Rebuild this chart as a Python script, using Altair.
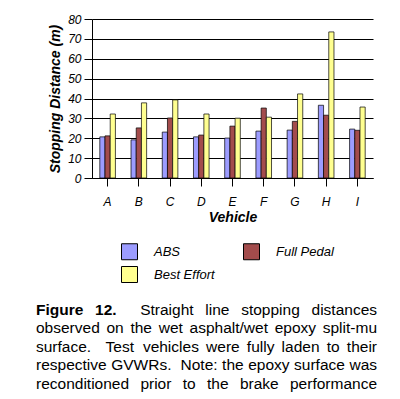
import altair as alt
import pandas as pd

vehicles = ["A", "B", "C", "D", "E", "F", "G", "H", "I"]
series = ["ABS", "Full Pedal", "Best Effort"]
legend_order = ["ABS", "Best Effort", "Full Pedal"]
abs_vals = [20.7, 19.2, 23.1, 20.7, 20.1, 23.6, 24.1, 36.6, 24.6]
full_vals = [21.2, 25.2, 30.2, 21.6, 26.1, 35.2, 28.5, 31.6, 24.0]
best_vals = [32.2, 37.8, 39.3, 32.2, 30.1, 30.6, 42.3, 73.5, 35.7]
colors = ["#9c9cff", "#a34c4c", "#ffff90"]
y_ticks = [0, 10, 20, 30, 40, 50, 60, 70, 80]

caption_lines = [
    "Figure 12.  Straight line stopping distances",
    "observed on the wet asphalt/wet epoxy split-mu",
    "surface.  Test vehicles were fully laden to their",
    "respective GVWRs.  Note: the epoxy surface was",
    "reconditioned prior to the brake performance",
]
bold_words = ["Figure", "12."]

FONT = "Liberation Sans"
W, H = 281, 159

rows = []
for v, a, f, b in zip(vehicles, abs_vals, full_vals, best_vals):
    rows.append({"Vehicle": v, "Series": "ABS", "Value": a})
    rows.append({"Vehicle": v, "Series": "Full Pedal", "Value": f})
    rows.append({"Vehicle": v, "Series": "Best Effort", "Value": b})
df = pd.DataFrame(rows)

# Arial / Liberation Sans advance widths (per 1000 em)
REG = {" ": 278, ".": 278, ":": 278, "/": 278, "-": 333, ",": 278,
       "0": 556, "1": 556, "2": 556, "3": 556, "4": 556, "5": 556, "6": 556, "7": 556, "8": 556, "9": 556,
       "A": 667, "B": 667, "C": 722, "D": 722, "E": 667, "F": 611, "G": 778, "H": 722, "I": 278,
       "N": 722, "R": 722, "S": 667, "T": 611, "V": 667, "W": 944,
       "a": 556, "b": 556, "c": 500, "d": 556, "e": 556, "f": 278, "g": 556, "h": 556, "i": 222,
       "j": 222, "k": 500, "l": 222, "m": 833, "n": 556, "o": 556, "p": 556, "q": 556, "r": 333,
       "s": 500, "t": 278, "u": 556, "v": 500, "w": 722, "x": 500, "y": 500, "z": 500}
BOLD = dict(REG)
BOLD.update({"F": 611, "i": 278, "g": 611, "u": 611, "r": 389, "e": 556, "1": 556, "2": 556, ".": 278})

CAP_SIZE = 15.5
LEFT = 36 - 92
SPAN = 341
BASE0 = 315 - 19
LEAD = 18.4

cap_rows = []
for li, line in enumerate(caption_lines):
    toks = line.split(" ")
    words, gaps = [], []
    pending = 0
    for t in toks:
        if t == "":
            pending += 1
            continue
        if words:
            gaps.append(pending)
        words.append(t)
        pending = 1
    widths = []
    for w in words:
        table = BOLD if w in bold_words and li == 0 else REG
        widths.append(sum(table.get(c, 556) for c in w) / 1000 * CAP_SIZE)
    sp = REG[" "] / 1000 * CAP_SIZE
    natural = sum(widths) + sum(gaps) * sp
    per = (SPAN - natural) / max(sum(gaps), 1)
    x = LEFT
    for i, w in enumerate(words):
        cap_rows.append({"word": w, "px": x, "py": BASE0 + li * LEAD,
                         "bold": (w in bold_words and li == 0)})
        x += widths[i]
        if i < len(gaps):
            x += gaps[i] * (sp + per)
cap = pd.DataFrame(cap_rows)

bars = alt.Chart(df).mark_bar(stroke="black", strokeWidth=0.7).encode(
    x=alt.X("Vehicle:N", sort=vehicles,
            scale=alt.Scale(paddingInner=0.5, paddingOuter=0.25),
            axis=alt.Axis(title="Vehicle", labelAngle=0, tickSize=8, tickColor="black",
                          domainColor="black", labelFont=FONT, labelFontSize=12,
                          labelFontStyle="italic", labelColor="black", labelPadding=10,
                          titleFont=FONT, titleFontSize=14, titleFontStyle="italic",
                          titleFontWeight="bold", titleColor="black", titlePadding=3)),
    xOffset=alt.XOffset("Series:N", sort=series,
                        scale=alt.Scale(paddingInner=0, paddingOuter=0)),
    y=alt.Y("Value:Q", scale=alt.Scale(domain=[0, 80], nice=False),
            axis=alt.Axis(title="Stopping Distance (m)", values=y_ticks, tickSize=8,
                          tickColor="black", domainColor="black", gridColor="black",
                          gridOpacity=1, labelFont=FONT, labelFontSize=12,
                          labelFontStyle="italic", labelColor="black", labelPadding=3,
                          titleFont=FONT, titleFontSize=14, titleFontStyle="italic",
                          titleFontWeight="bold", titleColor="black", titlePadding=5)),
    color=alt.Color("Series:N",
                    scale=alt.Scale(domain=series, range=colors),
                    legend=alt.Legend(title=None, orient="none", legendX=29, legendY=224,
                                      columns=2, values=legend_order,
                                      symbolType="square", symbolSize=256,
                                      symbolStrokeColor="black", symbolStrokeWidth=1,
                                      labelFont=FONT, labelFontSize=13,
                                      labelFontStyle="italic", labelColor="black",
                                      labelOffset=16, columnPadding=26, rowPadding=2)),
)

cap_norm = alt.Chart(cap).transform_filter("!datum.bold").mark_text(
    align="left", baseline="alphabetic", font=FONT, fontSize=CAP_SIZE, color="black"
).encode(x=alt.X("px:Q", scale=None, axis=None),
         y=alt.Y("py:Q", scale=None, axis=None), text="word:N")

cap_bold = alt.Chart(cap).transform_filter("datum.bold").mark_text(
    align="left", baseline="alphabetic", font=FONT, fontSize=CAP_SIZE, color="black",
    fontWeight="bold"
).encode(x=alt.X("px:Q", scale=None, axis=None),
         y=alt.Y("py:Q", scale=None, axis=None), text="word:N")

chart = alt.layer(bars, cap_norm, cap_bold).resolve_scale(
    x="independent", y="independent"
).properties(
    width=W, height=H,
    autosize=alt.AutoSizeParams(type="none"),
    padding={"left": 84, "top": 11, "right": 19, "bottom": 221},
    background="white",
).configure_view(stroke=None)

chart.save("out.html", embed_options={"renderer": "svg", "actions": False})
